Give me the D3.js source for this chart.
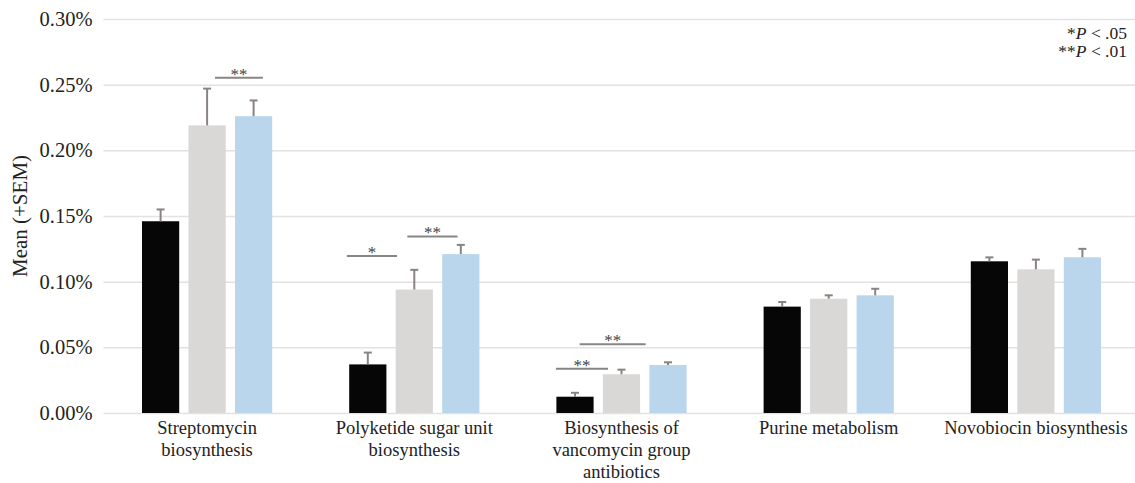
<!DOCTYPE html>
<html><head><meta charset="utf-8">
<script src="https://cdn.jsdelivr.net/npm/d3@7"></script>
<style>
body{margin:0;background:#fff;}
svg{display:block;}
</style></head>
<body>
<svg id="chart" width="1135" height="483"></svg>
<script>
const categories = [
  ["Streptomycin", "biosynthesis"],
  ["Polyketide sugar unit", "biosynthesis"],
  ["Biosynthesis of", "vancomycin group", "antibiotics"],
  ["Purine metabolism"],
  ["Novobiocin biosynthesis"]
];
const groups = ["G1", "G2", "G3"];
const meanG1 = [0.146, 0.037, 0.0124, 0.081, 0.1155];
const meanG2 = [0.219, 0.094, 0.0295, 0.087, 0.1094];
const meanG3 = [0.226, 0.121, 0.0366, 0.0896, 0.1186];
const semG1 = [0.009, 0.009, 0.003, 0.0035, 0.003];
const semG2 = [0.028, 0.015, 0.0035, 0.0026, 0.0074];
const semG3 = [0.012, 0.007, 0.002, 0.005, 0.0064];
const yTicks = [0, 0.05, 0.10, 0.15, 0.20, 0.25, 0.30];
// significance brackets: category index, from/to in group-index units, level (%), label
const sigCat = [0, 1, 1, 2, 2];
const sigFrom = [1.17, -0.45, 0.85, -0.41, 0.10];
const sigTo = [2.2, 0.63, 1.93, 0.71, 1.52];
const sigLevel = [0.2553, 0.1195, 0.1344, 0.0337, 0.0523];
const sigLabel = ["**", "*", "**", "**", "**"];

const FONT = "Liberation Serif";
const colors = ["#060606", "#d9d8d6", "#bad6ec"];
const means = [meanG1, meanG2, meanG3];
const sems = [semG1, semG2, semG3];

const svg = d3.select("#chart");
const mLeft = 103.5, mRight = 1139.5, mTop = 19, mBottom = 413;

const y = d3.scaleLinear().domain([0, 0.30]).range([mBottom, mTop]);
const x0 = d3.scaleBand().domain(d3.range(categories.length)).range([mLeft, mRight]).padding(0);
const groupW = 139.5;
const x1 = d3.scaleBand().domain(groups).range([0, groupW]).paddingInner(0.2).paddingOuter(0.1);
const gOff = (x0.bandwidth() - groupW) / 2;
const gIdx = d3.scaleLinear().domain([0, 2])
  .range([x1(groups[0]) + x1.bandwidth()/2, x1(groups[2]) + x1.bandwidth()/2]);

// grid
const yAxis = d3.axisLeft(y).tickValues(yTicks)
  .tickSize(-(1135 - mLeft)).tickPadding(12)
  .tickFormat(d => d.toFixed(2) + "%");
const ga = svg.append("g").attr("transform", `translate(${mLeft},0)`).call(yAxis);
ga.attr("font-family", FONT);
ga.select(".domain").remove();
ga.selectAll(".tick line").attr("stroke", "#e4e1e1").attr("stroke-width", 1.5);
ga.selectAll(".tick text").style("font-family", FONT).attr("font-size", 20.5).attr("fill", "#222")
  .attr("x", -11);

// axis title
svg.append("text")
  .attr("transform", `translate(27,${(mTop + mBottom) / 2}) rotate(-90)`)
  .attr("text-anchor", "middle").attr("font-size", 21).attr("fill", "#222")
  .style("font-family", FONT)
  .text("Mean (+SEM)");

// bars
const rows = [];
categories.forEach((c, ci) => groups.forEach((g, gi) => {
  rows.push({ci, g, gi, v: means[gi][ci], e: sems[gi][ci]});
}));
const bx = d => x0(d.ci) + gOff + x1(d.g);
svg.append("g").selectAll("rect").data(rows).join("rect")
  .attr("x", bx).attr("width", x1.bandwidth())
  .attr("y", d => y(d.v)).attr("height", d => y(0) - y(d.v))
  .attr("fill", d => colors[d.gi]);

// error bars
const eg = svg.append("g").attr("stroke", "#8a8383").attr("stroke-width", 2);
eg.selectAll("line.v").data(rows).join("line").attr("class", "v")
  .attr("x1", d => bx(d) + x1.bandwidth()/2).attr("x2", d => bx(d) + x1.bandwidth()/2)
  .attr("y1", d => y(d.v)).attr("y2", d => y(d.v + d.e));
eg.selectAll("line.c").data(rows).join("line").attr("class", "c")
  .attr("x1", d => bx(d) + x1.bandwidth()/2 - 4).attr("x2", d => bx(d) + x1.bandwidth()/2 + 4)
  .attr("y1", d => y(d.v + d.e)).attr("y2", d => y(d.v + d.e));

// category labels
const cl = svg.append("g");
categories.forEach((lines, ci) => {
  const t = cl.append("text").attr("text-anchor", "middle")
    .attr("font-size", 18.5).attr("fill", "#222").style("font-family", FONT)
    .attr("x", x0(ci) + x0.bandwidth()/2).attr("y", 434);
  lines.forEach((ln, li) => t.append("tspan")
    .attr("x", x0(ci) + x0.bandwidth()/2).attr("dy", li === 0 ? 0 : 22).text(ln));
});

// significance
const sg = svg.append("g");
sigCat.forEach((ci, i) => {
  const base = x0(ci) + gOff;
  const xa = base + gIdx(sigFrom[i]), xb = base + gIdx(sigTo[i]);
  const yy = y(sigLevel[i]);
  sg.append("line").attr("x1", xa).attr("x2", xb).attr("y1", yy).attr("y2", yy)
    .attr("stroke", "#8a8585").attr("stroke-width", 2);
  sg.append("text").attr("x", (xa + xb) / 2).attr("y", yy + 2)
    .attr("text-anchor", "middle").attr("font-size", 17).attr("fill", "#444")
    .style("font-family", FONT)
    .text(sigLabel[i]);
});

// legend
const lg = svg.append("g").attr("font-size", 17.5).attr("fill", "#222").attr("text-anchor", "end");
const l1 = lg.append("text").attr("x", 1127).attr("y", 39).style("font-family", FONT);
l1.append("tspan").text("*");
l1.append("tspan").attr("font-style", "italic").text("P");
l1.append("tspan").text(" < .05");
const l2 = lg.append("text").attr("x", 1127).attr("y", 57).style("font-family", FONT);
l2.append("tspan").text("**");
l2.append("tspan").attr("font-style", "italic").text("P");
l2.append("tspan").text(" < .01");
</script>
</body></html>
